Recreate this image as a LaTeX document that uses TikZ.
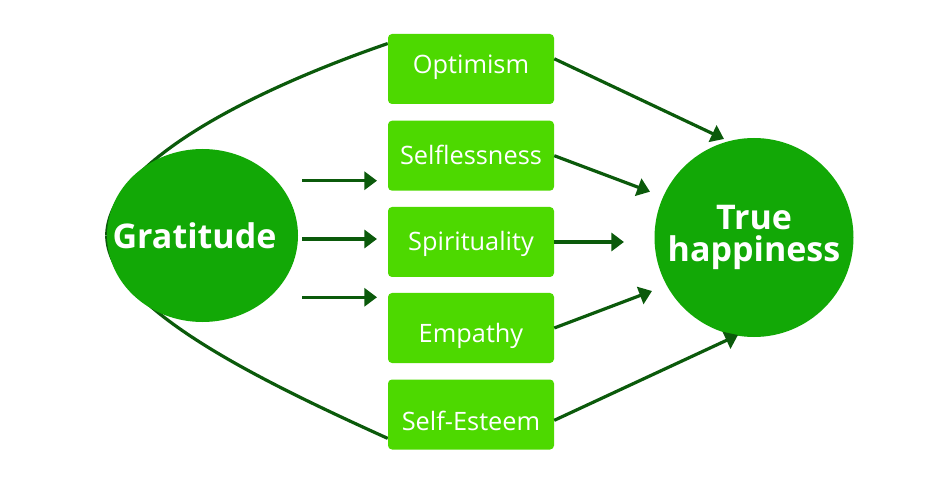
\documentclass[tikz,border=0pt]{standalone}
\usepackage{fontspec}
\setmainfont{Open Sans}
\usetikzlibrary{arrows.meta, shapes.geometric, backgrounds}

\definecolor{boxgreen}{HTML}{4DD900}
\definecolor{ballgreen}{HTML}{12A806}
\definecolor{arrowgreen}{HTML}{0B5A0B}

\tikzset{
    factor/.style={rectangle, rounded corners=3pt, fill=boxgreen, text=white,
        minimum width=124.5pt, minimum height=52.5pt, inner sep=0pt,
        text height=13.5pt, text depth=0pt,
        font=\fontsize{19}{22}\selectfont},
    ball/.style={fill=ballgreen, text=white, inner sep=0pt, align=center,
        font=\fontsize{25.5}{24}\bfseries\selectfont},
    flow/.style={-{Triangle[length=9.5pt, width=13.5pt]}, draw=arrowgreen, line width=2.4pt},
    link/.style={draw=arrowgreen, line width=2.4pt}
}

\begin{document}
\begin{tikzpicture}[x=0.75pt, y=0.75pt]
    \useasboundingbox (0,0) rectangle (940,490);

    % 两个大圆
    \node[ball, ellipse, minimum width=143.25pt, minimum height=129.75pt] (grat) at (202.5,254.5) {\makebox[0pt]{Gratitude\hspace*{12pt}}};
    \node[ball, circle, minimum size=149.25pt] (happy) at (754,252.5) {True\\happiness};

    % 中间五个因素
    \node[factor, text depth=6.8pt] (opt) at (471,421) {Optimism};
    \node[factor] (sel) at (471,334.3) {Selflessness};
    \node[factor] (spi) at (471,248) {Spirituality};
    \node[factor, text height=22.5pt] (emp) at (471,162) {Empathy};
    \node[factor, text height=24.7pt] (est) at (471,75.5) {Self-Esteem};

    % 外侧弧线 (放在圆下面)
    \begin{scope}[on background layer]
        \draw[link] (grat.west) .. controls (107,325) and (247,398) .. (opt.163);
        \draw[link] (grat.west) .. controls (107,185) and (252,113) .. (est.196);
    \end{scope}

    % 左侧箭头
    \foreach \i/\y in {1/309.3, 2/251, 3/192.7} {
        \coordinate (ls\i) at (302,\y);
        \coordinate (le\i) at (377,\y);
        \draw[flow] (ls\i) -- (le\i);
    }

    % 右侧箭头终点
    \coordinate (h1) at (724,351);
    \coordinate (h2) at (650,298.3);
    \coordinate (h3) at (624,248);
    \coordinate (h4) at (652,199);
    \coordinate (h5) at (738,155);

    \draw[flow] (opt.7.5) -- (h1);
    \draw[flow] (sel.east) -- (h2);
    \draw[flow] (spi.east) -- (h3);
    \draw[flow] (emp.east) -- (h4);
    \draw[flow] (est.-4) -- (h5);
\end{tikzpicture}
\end{document}
